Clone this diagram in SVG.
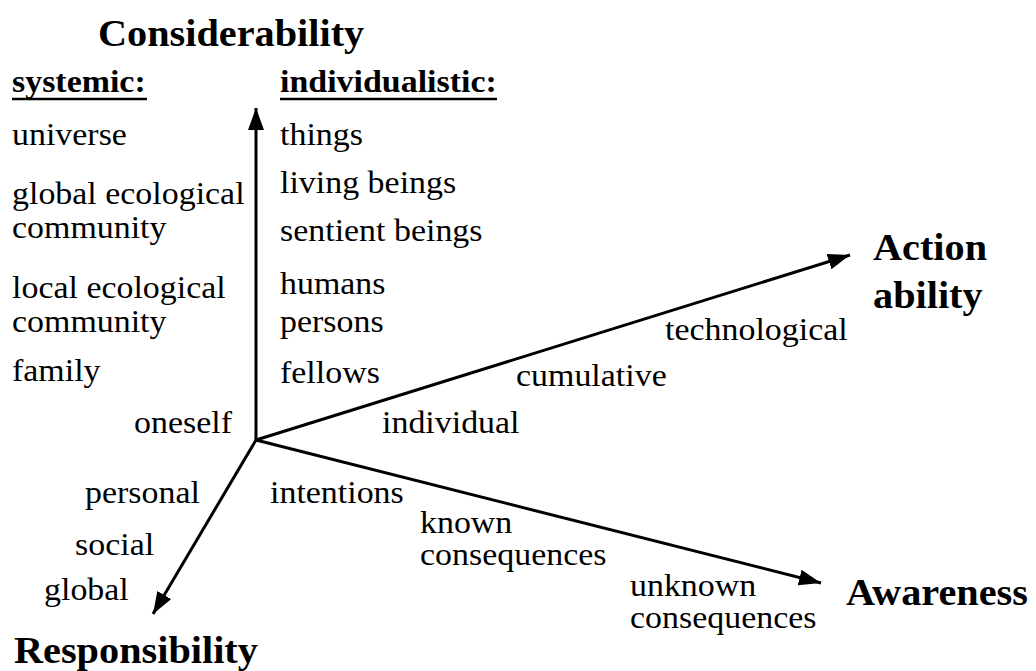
<svg xmlns="http://www.w3.org/2000/svg" width="1036" height="671" viewBox="0 0 1036 671">
<style>
text{font-family:"Liberation Serif","Times New Roman",serif;fill:#000}
.r{font-size:32px}
.b{font-size:38px;font-weight:bold}
.h{font-size:32px;font-weight:bold}
.ax{stroke:#000;stroke-width:3;fill:none}
</style>
<defs>
<marker id="ah" markerUnits="userSpaceOnUse" markerWidth="24" markerHeight="18" refX="22" refY="8" orient="auto">
<path d="M0,0 L22,8 L0,16 z" fill="#000"/>
</marker>
</defs>
<rect width="1036" height="671" fill="#fff"/>
<g id="connectors">
<line class="ax" x1="256" y1="440" x2="256" y2="108" marker-end="url(#ah)"/>
<line class="ax" x1="256" y1="440" x2="850" y2="255" marker-end="url(#ah)"/>
<line class="ax" x1="256" y1="440" x2="821" y2="583" marker-end="url(#ah)"/>
<line class="ax" x1="256" y1="440" x2="153" y2="614" marker-end="url(#ah)"/>
</g>
<g id="considerability">
<text class="b" transform="matrix(1.06 0 0 1 98 46)">Considerability</text>
<g id="systemic">
<text class="h" transform="matrix(1.06 0 0 1 12 92)">systemic:</text>
<line x1="12" y1="99" x2="147" y2="99" stroke="#000" stroke-width="2.5"/>
<text class="r" transform="matrix(1.06 0 0 1 12 145)">universe</text>
<text class="r" transform="matrix(1.06 0 0 1 12 204)">global ecological</text>
<text class="r" transform="matrix(1.06 0 0 1 12 238)">community</text>
<text class="r" transform="matrix(1.06 0 0 1 12 298)">local ecological</text>
<text class="r" transform="matrix(1.06 0 0 1 12 332)">community</text>
<text class="r" transform="matrix(1.06 0 0 1 12 381)">family</text>
<text class="r" transform="matrix(1.06 0 0 1 134 433)">oneself</text>
</g>
<g id="individualistic">
<text class="h" transform="matrix(1.06 0 0 1 280 92)">individualistic:</text>
<line x1="280" y1="99" x2="497" y2="99" stroke="#000" stroke-width="2.5"/>
<text class="r" transform="matrix(1.06 0 0 1 280 145)">things</text>
<text class="r" transform="matrix(1.06 0 0 1 280 193)">living beings</text>
<text class="r" transform="matrix(1.06 0 0 1 280 241)">sentient beings</text>
<text class="r" transform="matrix(1.06 0 0 1 280 294)">humans</text>
<text class="r" transform="matrix(1.06 0 0 1 280 332)">persons</text>
<text class="r" transform="matrix(1.06 0 0 1 280 383)">fellows</text>
</g>
</g>
<g id="actionability">
<text class="b" transform="matrix(1.06 0 0 1 873 260)">Action</text>
<text class="b" transform="matrix(1.06 0 0 1 873 308)">ability</text>
<text class="r" transform="matrix(1.06 0 0 1 382 433)">individual</text>
<text class="r" transform="matrix(1.06 0 0 1 516 386)">cumulative</text>
<text class="r" transform="matrix(1.06 0 0 1 665 340)">technological</text>
</g>
<g id="awareness">
<text class="b" transform="matrix(1.06 0 0 1 846 605)">Awareness</text>
<text class="r" transform="matrix(1.06 0 0 1 270 503)">intentions</text>
<text class="r" transform="matrix(1.06 0 0 1 420 533)">known</text>
<text class="r" transform="matrix(1.06 0 0 1 420 565)">consequences</text>
<text class="r" transform="matrix(1.06 0 0 1 630 596)">unknown</text>
<text class="r" transform="matrix(1.06 0 0 1 630 628)">consequences</text>
</g>
<g id="responsibility">
<text class="b" transform="matrix(1.06 0 0 1 14 663)">Responsibility</text>
<text class="r" transform="matrix(1.06 0 0 1 85 503)">personal</text>
<text class="r" transform="matrix(1.06 0 0 1 75 555)">social</text>
<text class="r" transform="matrix(1.06 0 0 1 44 600)">global</text>
</g>
</svg>
